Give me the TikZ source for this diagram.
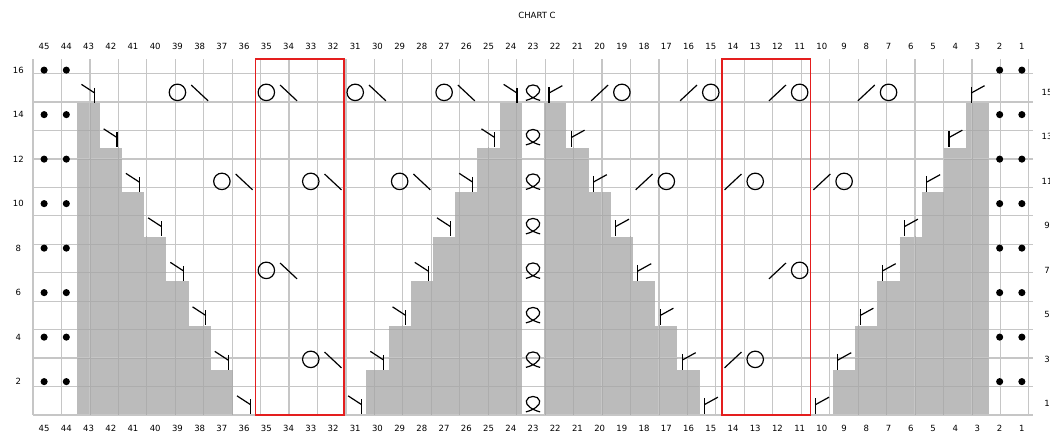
\documentclass[tikz,border=0pt]{standalone}
\usepackage{fontspec}
\setmainfont{DejaVu Sans}
\definecolor{gridc}{HTML}{C6C6C6}
\definecolor{gridd}{HTML}{ADADAD}
\definecolor{cellgray}{HTML}{BBBBBB}
\definecolor{redline}{HTML}{E41E1E}
\tikzset{
  sym/.style={line width=1.2pt, black},
  lbl/.style={font=\fontsize{8.5}{10}\selectfont, inner sep=0pt},
  pics/yl/.style={code={\draw[sym] (-0.32,0.36) -- (0.28,-0.03); \draw[sym] (0.28,0.2) -- (0.28,-0.46);}},
  pics/yr/.style={code={\draw[sym] (0.32,0.3) -- (-0.28,-0.03); \draw[sym] (-0.28,0.25) -- (-0.28,-0.46);}},
  pics/yo/.style={code={\draw[sym] (0,0) circle (0.37);}},
  pics/bsl/.style={code={\draw[sym] (-0.38,0.33) -- (0.38,-0.38);}},
  pics/fsl/.style={code={\draw[sym] (-0.38,-0.38) -- (0.38,0.33);}},
  pics/dotst/.style={code={\fill (0,0) circle (0.16);}},
  pics/loopst/.style={code={\draw[sym] (-0.32,-0.36) .. controls (0.05,-0.27) and (0.34,-0.05) .. (0.3,0.13) .. controls (0.26,0.4) and (-0.26,0.4) .. (-0.3,0.13) .. controls (-0.34,-0.05) and (-0.05,-0.27) .. (0.32,-0.36);}},
}
\begin{document}
\begin{tikzpicture}[x=22.2222pt, y=22.25pt]
\useasboundingbox (-33pt,-24pt) rectangle (1017pt,415pt);
% shaded areas
\foreach \k in {1,...,7}{
  \fill[cellgray] (2,14-2*\k) rectangle (2+\k,16-2*\k);
  \fill[cellgray] (22-\k,14-2*\k) rectangle (22,16-2*\k);
  \fill[cellgray] (23,14-2*\k) rectangle (23+\k,16-2*\k);
  \fill[cellgray] (43-\k,14-2*\k) rectangle (43,16-2*\k);
}
% grid
\draw[gridc, line width=1.2pt] (0,0) grid (45,16);
% faint divisions inside the shaded areas
\foreach \k in {1,...,7}{
  \begin{scope}
    \clip (2,14-2*\k) rectangle (2+\k,16-2*\k);
    \draw[gridd, line width=0.8pt] (0,0) grid (45,16);
  \end{scope}
  \begin{scope}
    \clip (22-\k,14-2*\k) rectangle (22,16-2*\k);
    \draw[gridd, line width=0.8pt] (0,0) grid (45,16);
  \end{scope}
  \begin{scope}
    \clip (23,14-2*\k) rectangle (23+\k,16-2*\k);
    \draw[gridd, line width=0.8pt] (0,0) grid (45,16);
  \end{scope}
  \begin{scope}
    \clip (43-\k,14-2*\k) rectangle (43,16-2*\k);
    \draw[gridd, line width=0.8pt] (0,0) grid (45,16);
  \end{scope}
}
% red repeat boxes
\draw[redline, line width=1.4pt] (10,0) rectangle (14,16);
\draw[redline, line width=1.4pt] (31,0) rectangle (35,16);
% decrease symbols along the diagonals and twisted stitches
\foreach \j in {0,...,7}{
  \pgfmathsetmacro{\yy}{14.5-2*\j}
  \pic at (2.5+\j,\yy) {yl};
  \pic at (21.5-\j,\yy) {yl};
  \pic at (23.5+\j,\yy) {yr};
  \pic at (42.5-\j,\yy) {yr};
  \pic at (22.5,\yy) {loopst};
}
% purl dots
\foreach \r in {2,4,...,16}{
  \pic at (0.5,\r-0.5) {dotst};
  \pic at (1.5,\r-0.5) {dotst};
  \pic at (43.5,\r-0.5) {dotst};
  \pic at (44.5,\r-0.5) {dotst};
}
% yarn over + ssk  (O at column a)
\foreach \a/\yy in {39/14.5,35/14.5,31/14.5,27/14.5,37/10.5,33/10.5,29/10.5,35/6.5,33/2.5}{
  \pic at (45.5-\a,\yy) {yo};
  \pic at (46.5-\a,\yy) {bsl};
}
% k2tog + yarn over  (/ at column b)
\foreach \b/\yy in {20/14.5,16/14.5,12/14.5,8/14.5,18/10.5,14/10.5,10/10.5,12/6.5,14/2.5}{
  \pic at (45.5-\b,\yy) {fsl};
  \pic at (46.5-\b,\yy) {yo};
}
% column numbers
\foreach \c in {1,...,45}{
  \node[lbl] (t\c) at (45.5-\c,16.584) {\c};
  \node[lbl] (b\c) at (45.5-\c,-0.584) {\c};
}
% row numbers
\foreach \r in {2,4,...,16}{
  \node[lbl] (l\r) at (-0.66,\r-0.5) {\r};
}
\foreach \r in {1,3,...,15}{
  \node[lbl] (r\r) at (45.63,\r-0.5) {\r};
}
\node[lbl] (title) at (22.68,17.98) {CHART C};
\end{tikzpicture}
\end{document}
